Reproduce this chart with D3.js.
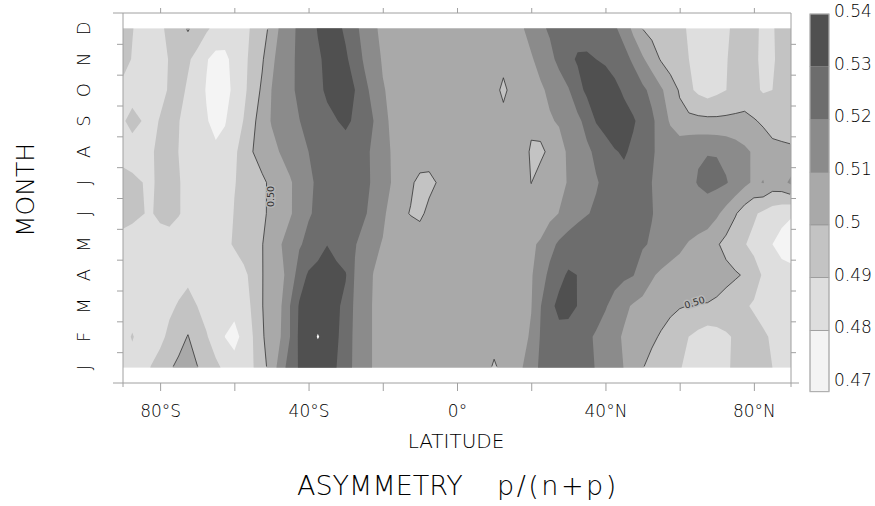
<!DOCTYPE html>
<html><head><meta charset="utf-8">
<script src="https://cdn.jsdelivr.net/npm/d3@7/dist/d3.min.js"></script>
<style>
body{margin:0;background:#fff}
svg{display:block}
text{font-family:"DejaVu Sans",sans-serif;font-weight:200;fill:#000}
</style>
</head><body>
<svg id="chart" width="875" height="506"></svg>
<script>
// ---- data (asymmetry p/(n+p), in thousandths) ----
// latitude grid, 2.5 degree steps from 90S to 90N
const lats = d3.range(-90, 90.001, 2.5);
const monthLabels = ["J","F","M","A","M","J","J","A","S","O","N","D"];
const jan = [486,485.8,485.5,490.3,494,498.7,502.4,504.2,500.5,495.9,491.8,488.3,485,485,489.5,496.1,504.2,515,524.8,530.9,533.2,534.6,532.3,530.1,524,518.2,513.2,509.4,507.9,506.3,506,505.5,505.5,505.5,505.5,505.5,505.5,505.5,505,502.5,499,502,504.5,509.5,516.8,521.2,523.5,525.7,526.1,524,521.9,519.6,516.4,513.1,509.8,505.1,500.4,497.1,494,492.2,490.4,488.5,486.6,485.4,487.3,489.2,491,492.9,493.3,491.7,490,488,486];
const feb = [486,490.8,486,485.4,487.5,492.3,496,500.5,494,490.7,486,479.8,476,483.4,490,498.9,504.7,510,520,531.9,536.1,540.5,537,531.7,524.8,518.2,513.2,509.4,507.9,506.3,506,505.5,505.5,505.5,505.5,505.5,505.5,505.5,505.5,505.5,502.7,505,505.5,507,511.3,520.7,524,527.3,526.2,523.9,521.6,519,515.6,512.1,509,506.6,504.1,501.7,499,496,492.9,489.9,487.2,484.5,486.1,488.8,491,492.9,493.2,491.2,489,487.5,486];
const mar = [485,485,485,485,485,488.1,490.9,493,490,486.7,485.4,484.7,484,487.2,491,499.7,504.4,509.1,520,531,533.3,535.5,534.1,531.8,527.3,518.2,513.2,509.4,507.9,506.3,506,505.5,505.5,505.5,505.5,505.5,505.5,505.5,505.5,505.5,505.5,505.5,505.5,506.5,509.6,519.6,527.7,532.2,532.8,529.8,526.8,523.8,520.8,516.6,511.9,509,507.3,505.7,504,502.3,500.7,499.8,499.5,499.5,498.5,496.1,493,491,489,487,485,484.5,484];
const apr = [486,485.7,485.5,485.2,485,485.5,486,488,486,485,484,484,484,487.8,492.8,499.7,503.8,507.7,513.6,525,531.3,533.2,535,532.8,530.7,519.2,514.3,509.7,508,506.3,506,505.8,505.5,505.5,505.5,505.5,505.5,505.5,505.5,505.5,505.5,505.5,505.5,506.5,509.1,515.5,522.4,527.6,531.1,529.9,528.2,526.6,525,523.4,521.9,520.3,516,511,508.4,506.4,505.7,505.4,505,504.3,503.6,502.7,501.2,499,494,489,485.3,483.6,483];
const may = [486,485.7,485.5,485.2,485,484.8,484.5,484.2,484,484.3,484.8,487.5,491.1,494,496.8,499.7,504.5,509.6,514.3,518.9,522.7,526.2,529.8,526.7,523.7,520.6,516.6,512.2,509.4,508.2,507,506.5,507,506.5,506,505.5,505.5,505.5,505.5,505.5,505.5,505.5,506,507,508.7,511.1,516.8,521.6,525.1,527.9,527.3,526.6,526,524.7,523.4,522.1,520.8,519.2,516.9,514.5,511.9,509.3,506.6,503.8,501,497.3,493,490.5,487.5,484.2,480,476.7,475];
const jun = [494,492.2,490.4,489.2,492.3,493.9,490.6,487.2,485,484,483,485,490.5,493.2,495.9,498.6,501.7,505.4,509,513.8,519.1,521.7,523.7,525.8,526,523.5,521.1,517.1,512,506,502,499.5,497.5,503,505,505.5,505.5,505.5,505.5,505.5,505.5,505.5,505,504,503,504.5,507.4,510.2,513.3,516.4,519.5,521.3,522.9,524.4,526,524.1,522.2,520.3,518,515.4,515,516,517,516.5,511.7,506.4,500.9,495.2,491.3,488.1,485,483,481];
const jul = [494,492.1,490.2,488.6,492.1,493.8,490.5,487.7,485,484,483,484.7,489.5,492.7,495.6,498.5,501.7,505.4,509,513.5,518.3,521.4,523.5,525.7,526.1,523.9,521.8,519,513.9,509.5,507.4,501.5,497.5,497,501,504.5,505.5,505.5,505.5,505.5,505.5,505,504,502.5,499.9,503,505.5,507.9,510.5,513.4,516.4,519.3,521.9,524.5,527,524.7,522.3,520,517.7,515.5,516.6,518.5,520.4,522,522.3,520.7,517.1,512.4,508.5,510.4,506,507,512];
const aug = [486,485.5,485,488.9,492.2,492.8,489.9,486.6,484.5,482.8,481.5,483,488.1,494.3,500,503.6,507.1,510.6,513.8,516.9,520,522.2,524.4,526.6,525.4,523.5,521.6,518.9,513.3,509.3,507.5,506,505.5,505.5,505.3,505.2,505,505,505,505,505,505.5,505.5,505,498.5,498.5,501.5,506.7,511.3,514.7,518.2,521.8,525.5,529.3,531.1,528.1,524.4,520.7,518.4,516.4,517.2,518.6,519.5,519.7,519.5,517.8,515,511.9,508.8,505.9,503,502.5,502];
const sep = [489,493,490,486.8,490.7,494,490.3,487,483.8,480.6,477.6,479.4,485,490.3,497.9,504.7,510.6,513.7,516.7,519.8,522.5,525.3,528,529.6,532,528.5,524.2,520,511.9,508.8,507.3,506,505.5,505.5,505.3,505.2,505,505,505,505,505,503,505,506.1,502.5,503,509.2,510.8,514.3,517.8,523.1,530.7,534.2,536.5,533.7,531,526.8,521.8,515.6,508.8,503,502.8,502.5,502.3,502,502.2,502.3,502.5,500.8,498.5,496,495,494];
const oct = [487,486,485.5,486,487,491,493.1,488.6,484,479.4,475.7,477.6,481.6,487.8,494.6,501.7,510,514.1,518.2,521.8,524.9,528.1,531.3,534.4,532.8,530,523.1,516.6,510.5,508.6,507.2,506,505.5,505.5,505.3,505.2,505,505,505,505,503,498,503,504.9,506.9,508.8,511.5,515.4,519.2,526.5,532.1,535.8,536.4,532.3,528.6,525.3,522,517.5,511.3,505.2,499,492,487.9,485.4,487.7,489.9,492.7,494.5,492,489,490,492,494];
const nov = [494,489.4,486.3,486.2,488.2,490.3,493.4,491.3,487,480.6,477.2,478.1,482.7,487.7,492.9,498.8,508,513.6,518,521.9,525.3,528.8,531.8,533.5,531.3,526.3,518.6,513,509.3,507.9,506.6,506,505.5,505.5,505.3,505.2,505,505,505,505.2,505,503,505.5,507.5,509.2,512.6,517.4,522.4,527.8,531,531.4,530,528.3,526.3,522.8,518.6,511.4,505,499.1,494.9,492.2,490,487.2,485.4,487.5,489.6,492,493.6,491.3,488.5,489.3,491.8,494];
const dec = [495,490.5,486.5,486.5,488.5,492,496,501,496,491.5,487,484.5,484,487.5,491.3,496.2,502.6,512.2,517.2,521.9,526.2,530.5,534.2,532.4,528.5,522.4,516.6,510.9,508.8,507.4,506,505.8,505.5,505.3,505.2,505,505,505,505,505.2,505.5,506.8,508.1,509.3,512.7,518.2,521.2,523,524.8,526.6,525.8,524.2,522.6,521.1,516.8,507.4,499.8,496.9,494,492.6,491.1,489.5,487.5,485.4,486.8,489,491.4,494,491.6,488.6,489.5,491.9,494];

const levels = [0.47, 0.48, 0.49, 0.50, 0.51, 0.52, 0.53, 0.54];
const levelColors = ["#f4f4f4","#dedede","#c3c3c3","#a9a9a9","#8b8b8b","#6d6d6d","#505050"];
const overColor = "#ffffff";
const xTickValues = [-80,-60,-40,-20,0,20,40,60,80];
const labelledLine = 0.50;

// ---- layout ----
const svg = d3.select("#chart");
const x = d3.scaleLinear().domain([-90, 90]).range([123, 791]);
const y = d3.scaleLinear().domain([0.5, 12.5]).range([383, 13]);
const rows = [jan,feb,mar,apr,may,jun,jul,aug,sep,oct,nov,dec];
const nx = lats.length, ny = rows.length;
const values = rows.flat().map(v => v / 1000);
const gi2lat = d3.scaleLinear().domain([0, nx - 1]).range([lats[0], lats[nx - 1]]);
const clamp = (v, lo, hi) => Math.max(lo, Math.min(hi, v));
const proj = d3.geoTransform({
  point(px, py) {
    const gi = clamp(px - 0.5, 0, nx - 1), gj = clamp(py - 0.5, 0, ny - 1);
    this.stream.point(x(gi2lat(gi)), y(gj + 1));
  }
});
const path = d3.geoPath(proj);

const x0 = x(-90), x1 = x(90), yTop = y(12), yBot = y(1);
const defs = svg.append("defs");
defs.append("clipPath").attr("id","inner").append("rect")
  .attr("x", x0 + 1).attr("y", yTop + 1).attr("width", x1 - x0 - 2).attr("height", yBot - yTop - 2);

// filled bands
svg.append("rect").attr("x", x0).attr("y", yTop).attr("width", x1 - x0).attr("height", yBot - yTop)
  .attr("fill", levelColors[0]);
const fillThresholds = levels.slice(1);
const bands = d3.contours().size([nx, ny]).thresholds(fillThresholds)(values);
svg.append("g").selectAll("path").data(bands).join("path")
  .attr("d", path)
  .attr("fill", d => { const i = levels.indexOf(d.value); return i < levelColors.length ? levelColors[i] : overColor; })
  .attr("stroke", "none");

// 0.50 contour line
const line50 = d3.contours().size([nx, ny]).thresholds([labelledLine])(values);
svg.append("g").attr("clip-path", "url(#inner)").selectAll("path").data(line50).join("path")
  .attr("d", path).attr("fill", "none").attr("stroke", "#333").attr("stroke-width", 0.8);

// contour labels
const lab = [{lat: -50.3, m: 6.55, rot: -90, halo: "#b6b6b6"}, {lat: 64.0, m: 3.12, rot: -17, halo: "#b8b8b8"}];
svg.append("g").selectAll("text").data(lab).join("text")
  .attr("transform", d => `translate(${x(d.lat)},${y(d.m)}) rotate(${d.rot})`)
  .attr("text-anchor", "middle").attr("dominant-baseline", "central")
  .attr("font-size", 9.5).style("fill", "#333").style("font-weight", 400)
  .attr("stroke", d => d.halo).attr("stroke-width", 3).attr("paint-order", "stroke")
  .text(d3.format(".2f")(labelledLine));

// frame
const frameColor = "#a0a0a0";
const fr = svg.append("g").attr("stroke", frameColor).attr("stroke-width", 1).attr("fill", "none");
fr.append("line").attr("x1", x0 - 10).attr("x2", x1 + 8).attr("y1", 383).attr("y2", 383);
fr.append("line").attr("x1", x0 - 10).attr("x2", x1).attr("y1", 13).attr("y2", 13);
fr.append("line").attr("x1", x0).attr("x2", x0).attr("y1", 13).attr("y2", 387);
fr.append("line").attr("x1", x1).attr("x2", x1).attr("y1", 13).attr("y2", 387);

// axes ticks
const fmtLat = d => d === 0 ? "0°" : (d % 40 === 0 ? Math.abs(d) + "°" + (d < 0 ? "S" : "N") : "");
const bottomAx = svg.append("g").attr("transform", "translate(0,383)")
  .call(d3.axisBottom(x).tickValues(xTickValues).tickSize(8).tickPadding(14).tickFormat(fmtLat));
svg.append("g").attr("transform", "translate(0,13)")
  .call(d3.axisTop(x).tickValues(xTickValues).tickSize(5).tickFormat(""));
const halfMonths = d3.range(1.5, 12, 1);
svg.append("g").attr("transform", `translate(${x0},0)`)
  .call(d3.axisLeft(y).tickValues(halfMonths).tickSize(6).tickFormat(""));
svg.append("g").attr("transform", `translate(${x1},0)`)
  .call(d3.axisRight(y).tickValues(halfMonths).tickSize(5).tickFormat(""));
svg.selectAll(".domain").remove();
svg.selectAll(".tick line").attr("stroke", frameColor);
bottomAx.selectAll("text").attr("font-size", 17).style("fill", "#000")
  .attr("font-family", "DejaVu Sans").attr("font-weight", 200);

// month labels
svg.append("g").selectAll("text").data(monthLabels).join("text")
  .attr("transform", (d, i) => `translate(83,${y(i + 1)}) rotate(-90)`)
  .attr("text-anchor", "middle").attr("dominant-baseline", "central")
  .attr("font-size", 18).text(d => d);

// axis titles
svg.append("text").attr("x", 456).attr("y", 448).attr("text-anchor", "middle")
  .attr("font-size", 20).text("LATITUDE");
svg.append("text").attr("transform", "translate(34,190) rotate(-90)").attr("text-anchor", "middle")
  .attr("font-size", 25).text("MONTH");
const title = svg.append("text").attr("y", 495).attr("font-size", 27);
title.append("tspan").attr("x", 297).text("ASYMMETRY");
title.append("tspan").attr("x", 497).attr("letter-spacing", 2.5).text("p/(n+p)");

// colorbar (bands of equal height; lowest box drawn a little longer)
const cb = d3.scaleLinear().domain([0.47, 0.54]).range([383, 14]);
const cbx = 810, cbw = 19, cbBottom = 391.7;
const cbg = svg.append("g");
cbg.selectAll("rect").data(levelColors).join("rect")
  .attr("x", cbx).attr("width", cbw)
  .attr("y", (c, i) => cb(levels[i + 1]))
  .attr("height", (c, i) => (i === 0 ? cbBottom : cb(levels[i])) - cb(levels[i + 1]))
  .attr("fill", c => c).attr("stroke", "#8a8a8a").attr("stroke-width", 0.6);
cbg.append("rect").attr("x", cbx).attr("y", cb(0.54)).attr("width", cbw).attr("height", cbBottom - cb(0.54))
  .attr("fill", "none").attr("stroke", "#b0b0b0").attr("stroke-width", 1);
cbg.selectAll("text").data(levels).join("text")
  .attr("x", 834).attr("y", d => cb(d) - 3).attr("dominant-baseline", "central")
  .attr("font-size", 17).text(d => String(+d.toFixed(2)));
</script>
</body></html>
